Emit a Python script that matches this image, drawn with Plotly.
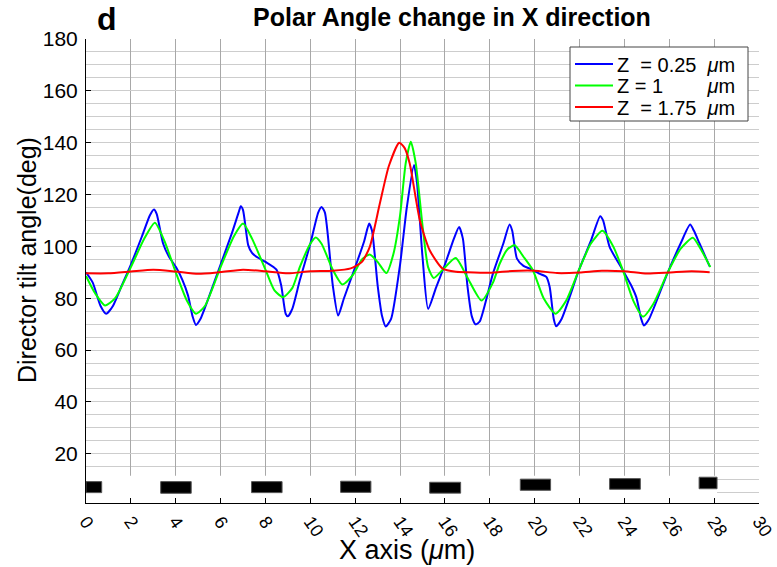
import plotly.graph_objects as go

# Director polar angle along X for three depths Z
x_z025 = [0.00, 0.30, 0.65, 0.90, 1.20, 1.60, 2.00, 2.50, 2.85, 3.03, 3.15, 3.44, 3.70, 4.01, 4.30,
          4.55, 4.75, 4.90, 5.10, 5.50, 6.00, 6.50, 6.80, 6.90, 7.00, 7.23, 7.40, 7.60, 8.00, 8.49,
          8.70, 8.90, 9.00, 9.20, 9.53, 10.00, 10.35, 10.50, 10.65, 11.00, 11.24, 11.50, 12.00, 12.40,
          12.62, 12.75, 13.00, 13.20, 13.36, 13.60, 14.00, 14.30, 14.62, 14.75, 15.00, 15.25, 15.60,
          16.00, 16.40, 16.63, 16.80, 17.00, 17.20, 17.37, 17.55, 18.14, 18.60, 18.88, 19.00, 19.21,
          19.50, 19.78, 20.20, 20.52, 20.67, 20.85, 20.96, 21.20, 21.97, 22.50, 22.92, 23.05, 23.34,
          23.93, 24.30, 24.53, 24.75, 24.87, 25.10, 25.94, 26.50, 26.93, 27.10, 27.35, 27.80]
y_z025 = [90.0, 86.0, 77.0, 74.0, 77.0, 85.0, 93.0, 104.0, 112.0, 114.2, 112.5, 101.0, 96.0, 92.0, 87.0,
          81.0, 73.0, 69.7, 72.0, 81.0, 93.0, 105.0, 113.0, 115.5, 114.0, 100.5, 97.5, 96.0, 94.0, 91.0,
          85.0, 74.0, 73.0, 76.0, 86.9, 101.0, 113.0, 115.2, 113.0, 85.0, 73.3, 80.0, 92.0, 102.0,
          108.8, 106.0, 85.0, 73.0, 69.1, 72.0, 93.0, 115.0, 131.4, 125.0, 96.0, 75.9, 84.0,
          93.0, 103.0, 107.5, 103.0, 85.0, 73.0, 69.9, 71.0, 89.5, 101.0, 108.4, 106.0, 95.3,
          92.5, 91.4, 89.5, 88.2, 84.3, 72.0, 69.2, 72.0, 90.8, 102.0, 111.6, 110.0, 99.8,
          90.8, 85.0, 80.4, 72.0, 69.5, 72.0, 90.1, 101.0, 108.4, 106.0, 101.1, 92.3]

x_z1 = [0.00, 0.40, 0.85, 1.30, 2.00, 2.60, 3.07, 3.50, 4.00, 4.50, 4.90, 5.30, 6.00, 6.60, 7.00,
        7.40, 8.00, 8.40, 8.79, 9.20, 9.53, 10.00, 10.24, 10.50, 11.00, 11.43, 11.90, 12.30, 12.65,
        13.00, 13.39, 13.70, 14.00, 14.25, 14.48, 14.70, 15.00, 15.25, 15.50, 15.90, 16.48, 17.00,
        17.63, 18.14, 18.44, 18.80, 19.11, 19.50, 19.92, 20.40, 20.93, 21.40, 21.97, 22.50, 23.02,
        23.50, 23.93, 24.40, 24.83, 25.30, 25.94, 26.50, 27.05, 27.40, 27.83]
y_z1 = [88.6, 82.0, 77.2, 80.0, 92.0, 103.0, 109.1, 102.0, 90.0, 79.0, 74.0, 77.0, 92.0, 104.0, 108.8,
        103.0, 91.0, 83.0, 80.4, 84.0, 92.0, 101.0, 103.4, 101.0, 91.0, 85.3, 89.0, 95.0, 96.9,
        94.0, 89.7, 97.0, 112.0, 132.0, 140.4, 132.0, 108.0, 92.0, 87.8, 91.0, 95.5, 88.0,
        79.1, 86.0, 93.3, 99.0, 100.4, 96.0, 90.8, 80.0, 74.0, 79.0, 90.8, 101.0, 106.0,
        100.0, 90.8, 79.0, 72.9, 78.0, 90.1, 99.0, 103.3, 99.0, 92.0]

x_z175 = [0.0, 1.0, 2.0, 3.0, 4.0, 5.0, 6.0, 7.0, 8.0, 9.0, 10.0, 11.0, 11.8, 12.3, 12.65, 13.1,
          13.5, 13.96, 14.2, 14.43, 14.88, 15.32, 15.9, 16.5, 17.0, 18.0, 19.0, 20.0, 21.0, 22.0,
          23.0, 24.0, 25.0, 26.0, 27.0, 27.8]
y_z175 = [89.6, 89.6, 90.3, 91.0, 90.3, 89.4, 90.1, 91.0, 90.4, 89.6, 90.4, 90.6, 91.5, 94.0, 99.8,
          116.6, 131.0, 140.0, 138.0, 132.0, 110.1, 98.5, 91.4, 90.2, 90.0, 89.8, 90.5, 90.6, 89.7,
          89.9, 90.6, 90.4, 89.5, 89.9, 90.4, 90.0]

series_names = ["Z\u00a0\u00a0=\u00a00.25\u00a0\u00a0<i>\u03bc</i>m",
                "Z\u00a0=\u00a01" + "\u00a0" * 8 + "<i>\u03bc</i>m",
                "Z\u00a0\u00a0=\u00a01.75\u00a0\u00a0<i>\u03bc</i>m"]
series_colors = ["#0000ff", "#00ff00", "#ff0000"]

# Electrode strip along the bottom of the axes
electrode_x0 = [-0.65, 3.33, 7.38, 11.35, 15.32, 19.36, 23.34, 27.33]
electrode_x1 = [0.70, 4.69, 8.74, 12.70, 16.70, 20.71, 24.71, 28.13]
electrode_y0 = [5.0, 4.75, 5.0, 5.1, 4.8, 5.9, 6.3, 6.5]
electrode_y1 = [9.25, 9.25, 9.25, 9.4, 9.0, 10.2, 10.4, 10.95]
strip_x = [0.0, 28.13]
strip_y = [1.0, 11.5]

x_ticks = list(range(0, 31, 2))
y_ticks = list(range(20, 181, 20))

FONT = "Liberation Sans, Arial, sans-serif"
W, H = 777, 567
ML, MR, MT, MB = 86, 18, 39, 64
PW, PH = W - ML - MR, H - MT - MB


def px(xp):
    return (xp - ML) / PW


def py(yp):
    return 1 - (yp - MT) / PH


fig = go.Figure()
for xs, ys, name, color in zip([x_z025, x_z1, x_z175], [y_z025, y_z1, y_z175],
                               series_names, series_colors):
    fig.add_trace(go.Scatter(x=xs, y=ys, mode="lines", name=name, showlegend=False,
                             line=dict(color=color, width=2, shape="spline", smoothing=0.6)))

# white backing for the electrode strip, above the grid but under the traces
fig.add_shape(type="rect", xref="x", yref="y", x0=strip_x[0], x1=strip_x[1],
              y0=strip_y[0], y1=strip_y[1], fillcolor="white", line=dict(width=0),
              layer="between")
for a, b, c, d in zip(electrode_x0, electrode_x1, electrode_y0, electrode_y1):
    fig.add_shape(type="rect", xref="x", yref="y", x0=max(a, 0), x1=b, y0=c, y1=d,
                  fillcolor="black", line=dict(color="#555555", width=1), layer="between")

# compact legend box
annotations = []
fig.add_shape(type="rect", xref="paper", yref="paper", x0=px(570), x1=px(748),
              y0=py(121), y1=py(47), fillcolor="white", line=dict(color="#444444", width=1),
              layer="above")
for i, (name, color) in enumerate(zip(series_names, series_colors)):
    row_y = 64 + i * 21.5
    fig.add_shape(type="line", xref="paper", yref="paper", x0=px(575), x1=px(613),
                  y0=py(row_y), y1=py(row_y), line=dict(color=color, width=2), layer="above")
    annotations.append(dict(text=name, xref="paper", yref="paper", x=px(615), y=py(row_y + 1),
                            xanchor="left", yanchor="middle", showarrow=False,
                            font=dict(size=20, family=FONT, color="black")))

annotations.append(dict(text="<b>d</b>", xref="paper", yref="paper", x=px(95), y=py(19),
                        xanchor="left", yanchor="middle", showarrow=False,
                        font=dict(size=32, family=FONT, color="black")))

# axis titles
annotations.append(dict(text="X axis (<i>\u03bc</i>m)", xref="paper", yref="paper",
                        x=px(407), y=py(550), xanchor="center", yanchor="middle",
                        showarrow=False, font=dict(size=27, family=FONT, color="black")))
annotations.append(dict(text="Director tilt angle(deg)", xref="paper", yref="paper",
                        x=px(27), y=py(260), xanchor="center", yanchor="middle",
                        textangle=-90, showarrow=False,
                        font=dict(size=25, family=FONT, color="black")))

fig.update_layout(
    width=W, height=H,
    margin=dict(l=ML, r=MR, t=MT, b=MB),
    paper_bgcolor="white", plot_bgcolor="white",
    font=dict(family=FONT, size=20, color="black"),
    showlegend=False,
    title=dict(text="<b>Polar Angle change in X direction</b>", x=452 / W, xanchor="center",
               y=0.985, yanchor="top", font=dict(size=25)),
    annotations=annotations,
)

fig.update_xaxes(range=[0, 30], tickvals=x_ticks, ticktext=[str(v) for v in x_ticks],
                 ticks="inside", ticklen=5, tickcolor="black", tickangle=55,
                 showline=True, linecolor="black", linewidth=1, mirror=False,
                 showgrid=True, gridcolor="#a8a8a8", gridwidth=1, zeroline=False,
                 tickfont=dict(size=18), ticklabelstandoff=0, ticklabelshift=0,
                 ticklabeloverflow="allow", automargin=False)
fig.update_yaxes(range=[1, 180], tickvals=y_ticks, ticktext=[str(v) for v in y_ticks],
                 ticks="inside", ticklen=5, tickcolor="black",
                 showline=True, linecolor="black", linewidth=1, mirror=False,
                 showgrid=True, gridcolor="#cdcdcd", gridwidth=1, zeroline=False,
                 minor=dict(tick0=0, dtick=5, showgrid=True, gridcolor="#cdcdcd", ticks=""),
                 tickfont=dict(size=21), ticklabelstandoff=3, automargin=False)

fig.write_html("out.html")
